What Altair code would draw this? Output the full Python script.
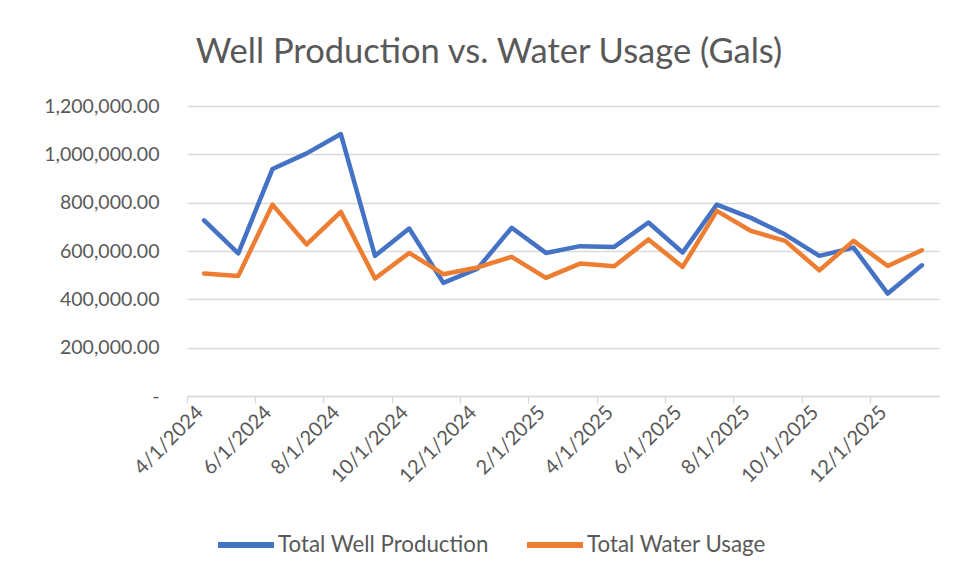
import altair as alt
import pandas as pd

months = ["4/1/2024", "5/1/2024", "6/1/2024", "7/1/2024", "8/1/2024", "9/1/2024",
          "10/1/2024", "11/1/2024", "12/1/2024", "1/1/2025", "2/1/2025", "3/1/2025",
          "4/1/2025", "5/1/2025", "6/1/2025", "7/1/2025", "8/1/2025", "9/1/2025",
          "10/1/2025", "11/1/2025", "12/1/2025", "1/1/2026"]
well_production = [727000, 590000, 939000, 1004000, 1084000, 580000, 693000, 468000,
                   527000, 696000, 592000, 620000, 617000, 718000, 594000, 792000,
                   737000, 668000, 580000, 614000, 424000, 541000]
water_usage = [507000, 497000, 792000, 627000, 762000, 486000, 592000, 504000,
               532000, 576000, 489000, 548000, 537000, 648000, 534000, 766000,
               683000, 642000, 520000, 642000, 538000, 603000]
series_names = ["Total Well Production", "Total Water Usage"]
series_colors = ["#4472C4", "#ED7D31"]
y_ticks = [0, 200000, 400000, 600000, 800000, 1000000, 1200000]

rows = []
for m, a, b in zip(months, well_production, water_usage):
    rows.append({"month": m, "series": series_names[0], "value": a})
    rows.append({"month": m, "series": series_names[1], "value": b})
df = pd.DataFrame(rows)

FONT = "Lato"
GREY = "#595959"

chart = alt.Chart(df).mark_line(strokeWidth=4.5, strokeCap="round", strokeJoin="round").encode(
    x=alt.X("month:O", sort=months, bandPosition=0.5,
            scale=alt.Scale(type="band", paddingInner=0, paddingOuter=0),
            axis=alt.Axis(title=None, values=months[::2], bandPosition=0,
                          labelAngle=-45, labelAlign="right", labelBaseline="middle",
                          labelFont=FONT, labelFontSize=20, labelColor=GREY,
                          labelPadding=6, labelOffset=-4,
                          domainColor="#D9D9D9", domainWidth=1.3,
                          tickColor="#D9D9D9", tickSize=7, tickWidth=1.3, grid=False)),
    y=alt.Y("value:Q", scale=alt.Scale(domain=[0, 1200000], nice=False),
            axis=alt.Axis(title=None, values=y_ticks,
                          labelExpr="datum.value == 0 ? '-\u00a0\u00a0\u00a0\u00a0\u00a0\u00a0' : format(datum.value, ',.2f')",
                          labelFont=FONT, labelFontSize=19.5, labelColor=GREY,
                          labelPadding=28, domain=False, ticks=False,
                          grid=True, gridColor="#D9D9D9", gridWidth=1.3)),
    color=alt.Color("series:N", sort=series_names,
                    scale=alt.Scale(domain=series_names, range=series_colors),
                    legend=alt.Legend(title=None, orient="none", direction="horizontal",
                                      legendX=28, legendY=408,
                                      symbolType="stroke", symbolSize=3136,
                                      symbolStrokeWidth=6, labelFont=FONT,
                                      labelFontSize=22.3, labelColor=GREY, labelLimit=0,
                                      labelOffset=1, columnPadding=26)),
).properties(
    width=752,
    height=290,
    title=alt.TitleParams("Well Production vs. Water Usage (Gals)", font=FONT,
                          fontSize=34.5, fontWeight="normal", color=GREY,
                          anchor="middle", dx=-74, offset=26),
    autosize=alt.AutoSizeParams(type="none"),
    padding={"left": 179, "top": 98, "right": 11, "bottom": 174},
).configure_view(stroke=None)

chart.save("out.html", embed_options={"renderer": "svg", "actions": False})
